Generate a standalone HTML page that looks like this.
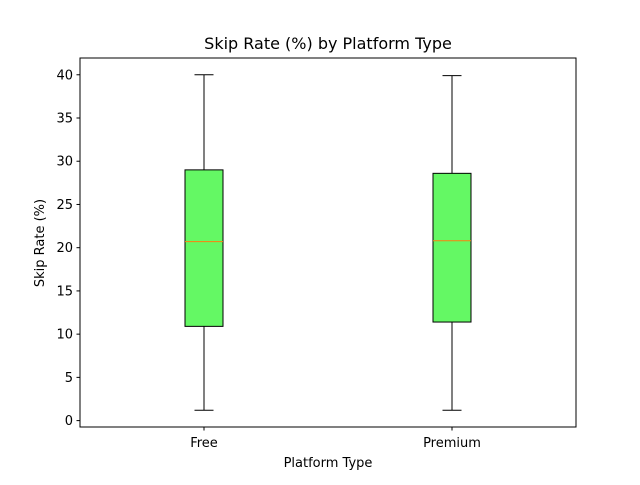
<!DOCTYPE html>
<html><head><meta charset="utf-8"><style>
body{margin:0;background:#fff;}
svg text{font-family:"DejaVu Sans","Liberation Sans",sans-serif;}
</style></head><body>
<svg id="chart" width="640" height="480" xmlns="http://www.w3.org/2000/svg">
<rect width="640" height="480" fill="#fff"/>
<text x="328" y="49" font-size="16" text-anchor="middle">Skip Rate (%) by Platform Type</text>
<g id="plot"></g>
<text x="328" y="467" font-size="13" text-anchor="middle">Platform Type</text>
<text transform="translate(44,243) rotate(-90)" font-size="13" text-anchor="middle">Skip Rate (%)</text>
</svg>
<script>
const categories=["Free","Premium"];
const whiskerLow=[1.2,1.2];
const q1=[10.9,11.4];
const medians=[20.7,20.8];
const q3=[29.0,28.6];
const whiskerHigh=[40.0,39.9];
const yTicks=[0,5,10,15,20,25,30,35,40];
const L=80,R=576,T=58,B=427,yMin=-0.74,yMax=41.94;
const y=v=>B-(v-yMin)/(yMax-yMin)*(B-T);
const x=i=>L+(R-L)*(0.25+0.5*i)/1.0*1;
const xc=i=>L+(R-L)*((i+1)-0.5)/(categories.length+1)*1; // placeholder
const NS="http://www.w3.org/2000/svg";
const g=document.getElementById('plot');
function el(t,a){const e=document.createElementNS(NS,t);for(const k in a)e.setAttribute(k,a[k]);g.appendChild(e);return e;}
const pos=i=>L+(R-L)*(i+1-0.5+0.5)/(categories.length+1)+ (i===0?0:0);
// matplotlib: xlim 0.5..2.5, positions 1,2
const px=i=>L+(R-L)*((i+1)-0.5)/2;
yTicks.forEach(v=>{
 const t=el('line',{x1:L-3.5,x2:L,y1:y(v),y2:y(v),stroke:'#000'});
 
 const l=el('text',{x:L-7,y:y(v)+4.5,'font-size':13,'text-anchor':'end'});l.textContent=v;
 
});
categories.forEach((c,i)=>{
 const cx=px(i),hw=19,cw=9.5;
 const t=el('line',{x1:cx,x2:cx,y1:B,y2:B+3.5,stroke:'#000'});
 
 const l=el('text',{x:cx,y:B+20,'font-size':13,'text-anchor':'middle'});l.textContent=c;
 
 const w1=el('line',{x1:cx,x2:cx,y1:y(whiskerLow[i]),y2:y(q1[i]),stroke:'#000'});
 
 const w2=el('line',{x1:cx,x2:cx,y1:y(q3[i]),y2:y(whiskerHigh[i]),stroke:'#000'});
 
 const c1=el('line',{x1:cx-cw,x2:cx+cw,y1:y(whiskerLow[i]),y2:y(whiskerLow[i]),stroke:'#000'});
 
 const c2=el('line',{x1:cx-cw,x2:cx+cw,y1:y(whiskerHigh[i]),y2:y(whiskerHigh[i]),stroke:'#000'});
 
 const b=el('rect',{x:cx-hw,y:y(q3[i]),width:2*hw,height:y(q1[i])-y(q3[i]),fill:'#64f864',stroke:'#000'});
 
 const m=el('line',{x1:cx-hw,x2:cx+hw,y1:y(medians[i]),y2:y(medians[i]),stroke:'#ff7f0e'});
 
});
const f=el('rect',{x:L,y:T,width:R-L,height:B-T,fill:'none',stroke:'#000'});

</script>
</body></html>
